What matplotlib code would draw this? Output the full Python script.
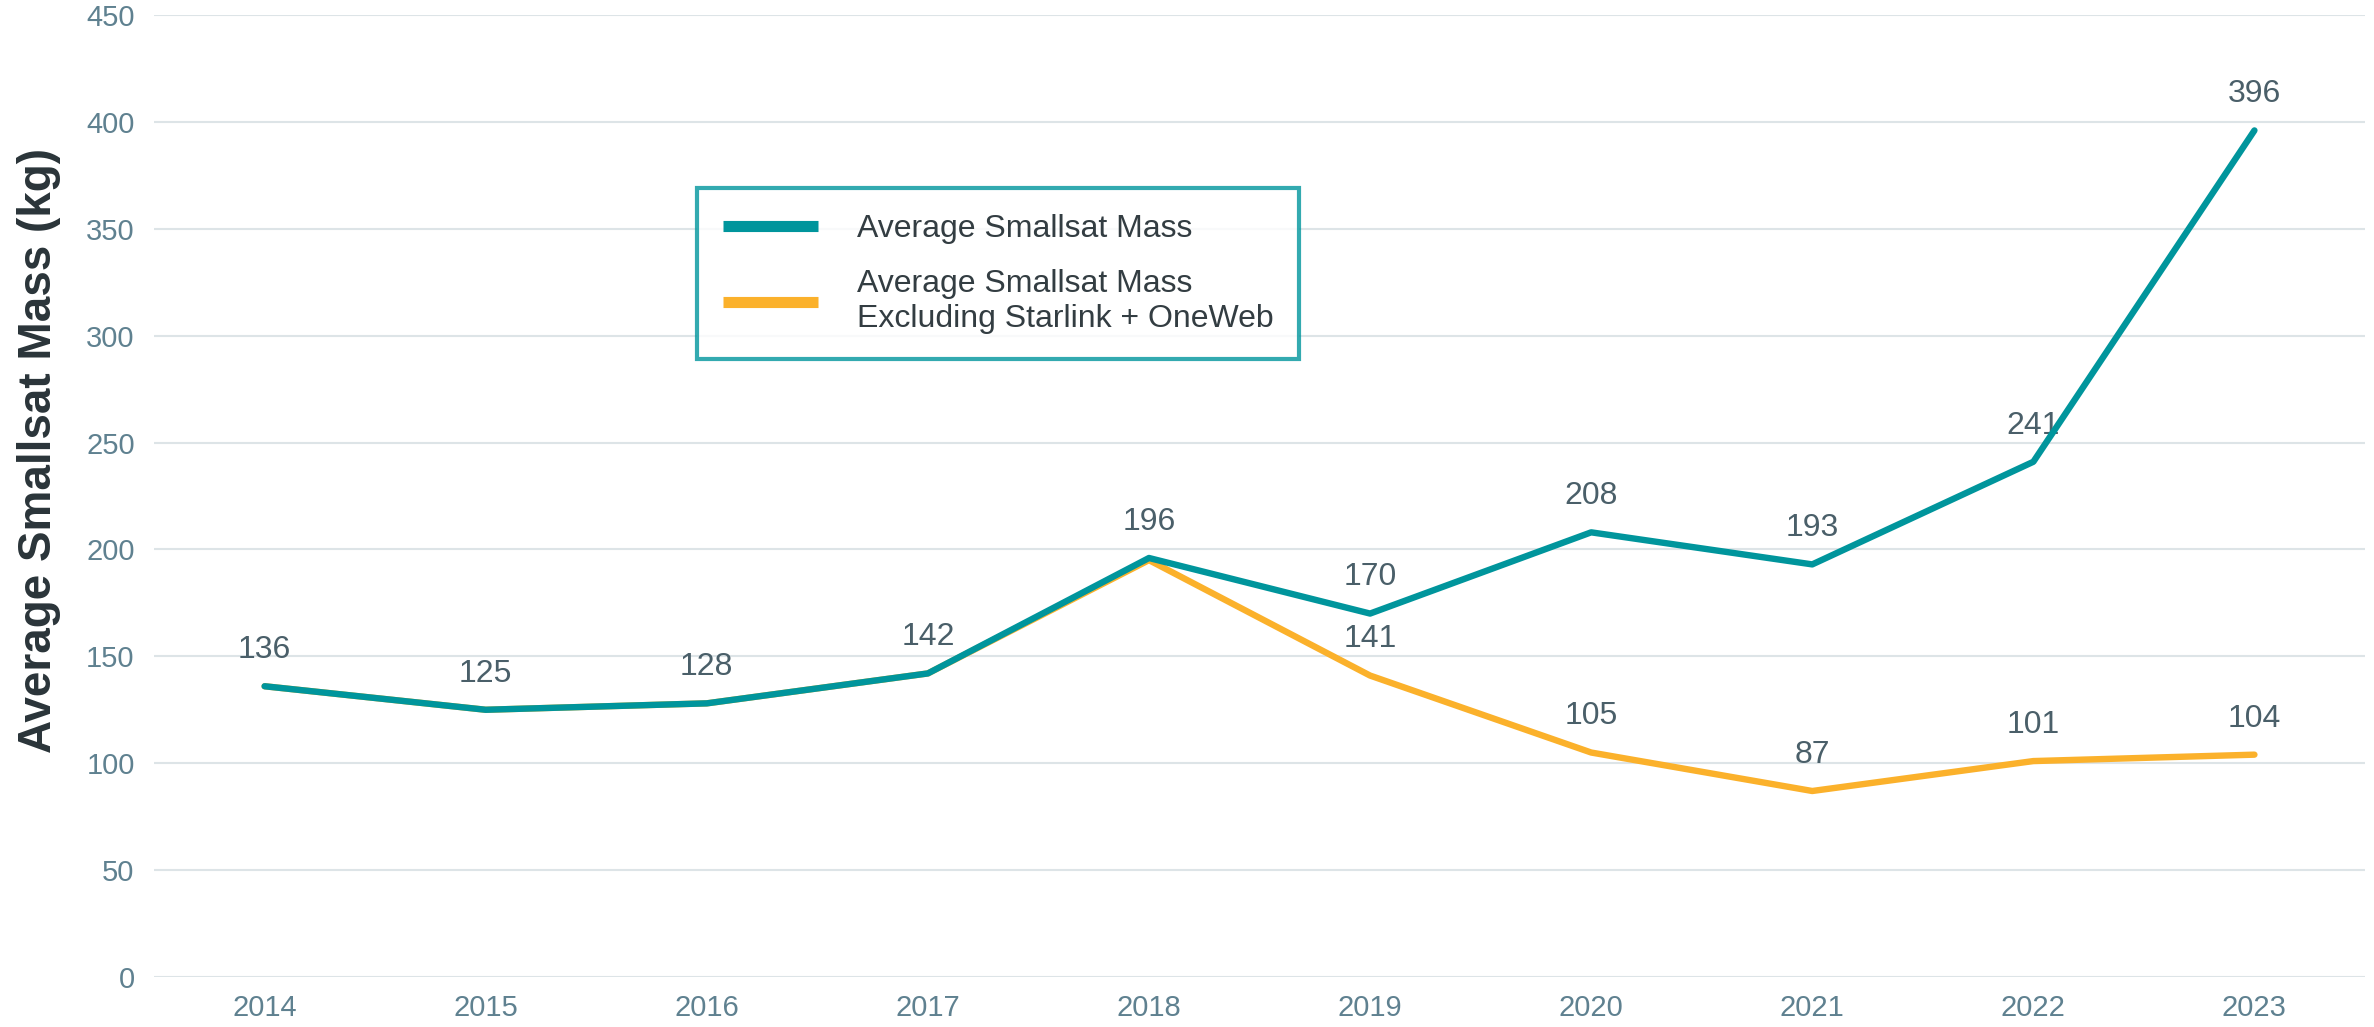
import numpy as np
import matplotlib.pyplot as plt

plt.rcParams['font.family'] = ['Liberation Sans', 'DejaVu Sans']

years = ['2014', '2015', '2016', '2017', '2018', '2019', '2020', '2021', '2022', '2023']
avg_mass = [136, 125, 128, 142, 196, 170, 208, 193, 241, 396]
avg_mass_excl = [136, 125, 128, 142, 195, 141, 105, 87, 101, 104]
excl_labels = [None, None, None, None, None, 141, 105, 87, 101, 104]

teal = '#00959c'
orange = '#fbb12b'
grid_c = '#dde4e7'
tick_c = '#5f8190'
label_c = '#4a5f69'

fig = plt.figure(figsize=(23.74, 10.27), dpi=100)
ax = fig.add_axes([0.0649, 0.0487, 0.9313, 0.9367])

x = np.arange(len(years))
ax.plot(x, avg_mass_excl, color=orange, lw=4.6, solid_capstyle='round', solid_joinstyle='round',
        label='Average Smallsat Mass\nExcluding Starlink + OneWeb', zorder=3)
ax.plot(x, avg_mass, color=teal, lw=4.6, solid_capstyle='round', solid_joinstyle='round',
        label='Average Smallsat Mass', zorder=4)

for xi, v in zip(x, avg_mass):
    ax.annotate(str(v), (xi, v), xytext=(0, 26), textcoords='offset points',
                ha='center', va='center', fontsize=23, color=label_c)
for xi, v in zip(x, excl_labels):
    if v is not None:
        ax.annotate(str(v), (xi, v), xytext=(0, 26), textcoords='offset points',
                    ha='center', va='center', fontsize=23, color=label_c)

ax.set_xlim(-0.5, 9.5)
ax.set_ylim(0, 450)
ax.set_yticks(np.arange(0, 451, 50))
ax.set_xticks(x)
ax.set_xticklabels(years)
ax.tick_params(axis='both', length=0, labelsize=21, colors=tick_c)
ax.tick_params(axis='y', pad=14)
ax.tick_params(axis='x', pad=12)
ax.grid(axis='y', color=grid_c, lw=1.5)
ax.set_axisbelow(True)
for s in ax.spines.values():
    s.set_visible(False)

ax.set_ylabel('Average Smallsat Mass (kg)', fontsize=33, fontweight='bold', color='#2a3439')
ax.yaxis.set_label_coords(-0.042, 0.547)

handles, labels = ax.get_legend_handles_labels()
leg = ax.legend(handles[::-1], labels[::-1], loc='upper left', bbox_to_anchor=(0.2456, 0.82),
                fontsize=23, frameon=True, fancybox=False, handlelength=3.0, handletextpad=1.2,
                borderpad=0.8, labelspacing=0.8, borderaxespad=0)
leg.get_frame().set_edgecolor(teal)
leg.get_frame().set_linewidth(3)
for t in leg.get_texts():
    t.set_color('#333d42')
for h in leg.get_lines():
    h.set_linewidth(8)
    h.set_solid_capstyle('butt')

fig.savefig('out.png', dpi=100)
